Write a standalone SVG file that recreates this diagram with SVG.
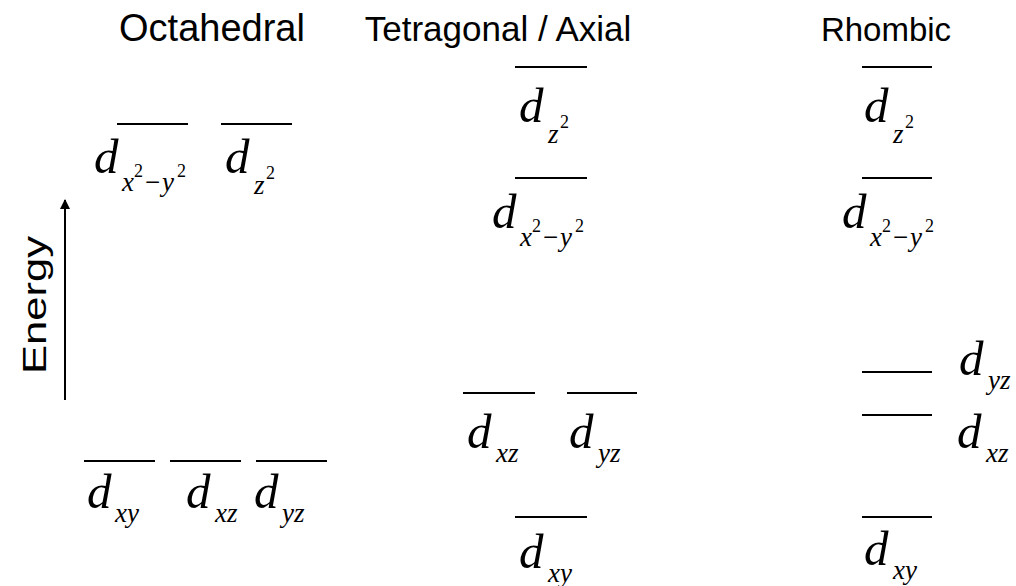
<svg xmlns="http://www.w3.org/2000/svg" width="1016" height="586" viewBox="0 0 1016 586">
<defs>
<style>
.t{font-family:"Liberation Sans",Arial,sans-serif;font-size:32px;fill:#000}
.m{font-family:"Liberation Serif","Times New Roman",serif;font-style:italic;font-size:49px;fill:#000}
.s{font-size:27px}
.p{font-size:18px;font-style:normal}
.u{font-style:normal}
.lv{stroke:#000;stroke-width:2;fill:none}
</style>
<marker id="ah" viewBox="0 0 10 10" refX="9" refY="5" markerWidth="5" markerHeight="6" orient="auto" markerUnits="strokeWidth">
<path d="M0,0 L10,5 L0,10 z" fill="#000"/>
</marker>
</defs>
<rect width="1016" height="586" fill="#fff"/>
<g id="titles">
<text class="t" x="212" y="41" text-anchor="middle" style="font-size:38px">Octahedral</text>
<text class="t" x="498" y="41" text-anchor="middle" style="font-size:35px">Tetragonal / Axial</text>
<text class="t" x="886" y="41" text-anchor="middle" style="font-size:33px">Rhombic</text>
</g>
<g id="energy-axis">
<text class="t" transform="translate(46,305) rotate(-90)" text-anchor="middle" style="font-size:33px" textLength="138" lengthAdjust="spacingAndGlyphs">Energy</text>
</g>
<g id="connectors">
<line x1="65" y1="400" x2="65" y2="200" stroke="#000" stroke-width="2" marker-end="url(#ah)"/>
</g>
<g id="oct-dx2y2">
<line class="lv" x1="117" y1="124" x2="188" y2="124"/>
<text class="m" x="94" y="173">d<tspan class="s" x="122" y="191">x</tspan><tspan class="p" x="134" y="177">2</tspan><tspan class="s u" x="145" y="191">−</tspan><tspan class="s" x="162" y="191">y</tspan><tspan class="p" x="177" y="177">2</tspan></text>
</g>
<g id="oct-dz2">
<line class="lv" x1="221" y1="124" x2="292" y2="124"/>
<text class="m" x="225" y="173">d<tspan class="s" x="254" y="194">z</tspan><tspan class="p" x="266" y="179">2</tspan></text>
</g>
<g id="oct-dxy">
<line class="lv" x1="84" y1="461" x2="155" y2="461"/>
<text class="m" x="87" y="508">d<tspan class="s" x="115" y="522">xy</tspan></text>
</g>
<g id="oct-dxz">
<line class="lv" x1="170" y1="461" x2="241" y2="461"/>
<text class="m" x="186" y="508">d<tspan class="s" x="215" y="522">xz</tspan></text>
</g>
<g id="oct-dyz">
<line class="lv" x1="256" y1="461" x2="327" y2="461"/>
<text class="m" x="254" y="508">d<tspan class="s" x="282" y="522">yz</tspan></text>
</g>
<g id="tet-dz2">
<line class="lv" x1="515" y1="67" x2="587" y2="67"/>
<text class="m" x="519" y="122">d<tspan class="s" x="548" y="143">z</tspan><tspan class="p" x="560" y="128">2</tspan></text>
</g>
<g id="tet-dx2y2">
<line class="lv" x1="515" y1="178" x2="587" y2="178"/>
<text class="m" x="492" y="228">d<tspan class="s" x="520" y="246">x</tspan><tspan class="p" x="532" y="232">2</tspan><tspan class="s u" x="543" y="246">−</tspan><tspan class="s" x="560" y="246">y</tspan><tspan class="p" x="575" y="232">2</tspan></text>
</g>
<g id="tet-dxz">
<line class="lv" x1="463" y1="393" x2="535" y2="393"/>
<text class="m" x="467" y="448">d<tspan class="s" x="496" y="462">xz</tspan></text>
</g>
<g id="tet-dyz">
<line class="lv" x1="567" y1="393" x2="637" y2="393"/>
<text class="m" x="569" y="448">d<tspan class="s" x="598" y="462">yz</tspan></text>
</g>
<g id="tet-dxy">
<line class="lv" x1="515" y1="517" x2="587" y2="517"/>
<text class="m" x="519" y="568">d<tspan class="s" x="548" y="582">xy</tspan></text>
</g>
<g id="rho-dz2">
<line class="lv" x1="862" y1="67" x2="932" y2="67"/>
<text class="m" x="864" y="122">d<tspan class="s" x="893" y="143">z</tspan><tspan class="p" x="905" y="128">2</tspan></text>
</g>
<g id="rho-dx2y2">
<line class="lv" x1="862" y1="178" x2="932" y2="178"/>
<text class="m" x="842" y="228">d<tspan class="s" x="870" y="246">x</tspan><tspan class="p" x="882" y="232">2</tspan><tspan class="s u" x="893" y="246">−</tspan><tspan class="s" x="910" y="246">y</tspan><tspan class="p" x="925" y="232">2</tspan></text>
</g>
<g id="rho-dyz">
<line class="lv" x1="862" y1="372" x2="932" y2="372"/>
<text class="m" x="959" y="375">d<tspan class="s" x="988" y="389">yz</tspan></text>
</g>
<g id="rho-dxz">
<line class="lv" x1="862" y1="415" x2="932" y2="415"/>
<text class="m" x="957" y="448">d<tspan class="s" x="986" y="462">xz</tspan></text>
</g>
<g id="rho-dxy">
<line class="lv" x1="862" y1="517" x2="932" y2="517"/>
<text class="m" x="864" y="565">d<tspan class="s" x="893" y="579">xy</tspan></text>
</g>
</svg>
